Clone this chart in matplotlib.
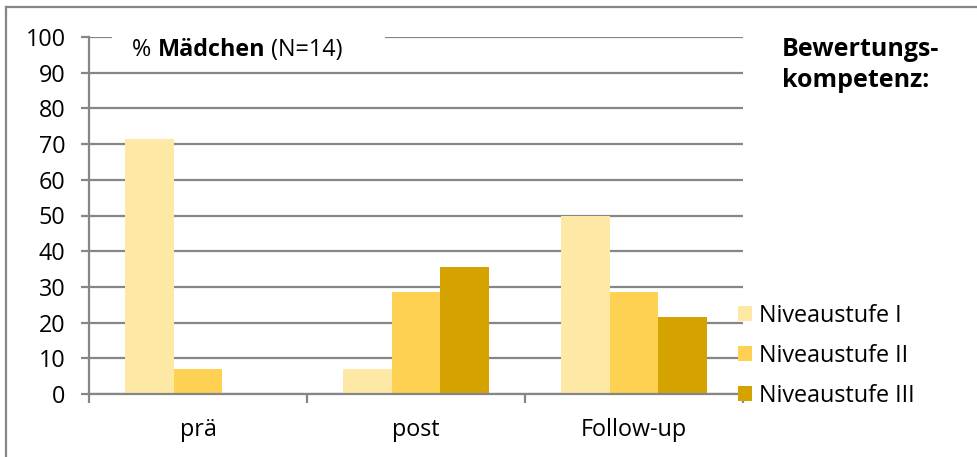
import matplotlib.pyplot as plt
from matplotlib.lines import Line2D
from matplotlib.patches import Rectangle
from matplotlib.text import Annotation
import numpy as np

plt.rcParams['font.family'] = ['Open Sans', 'DejaVu Sans']

# Anteile in Prozent, N=14 Mädchen
zeitpunkte = ['prä', 'post', 'Follow-up']
stufe_1 = [71.43, 7.14, 50.0]
stufe_2 = [7.14, 28.57, 28.57]
stufe_3 = [0.0, 35.71, 21.43]
labels = ['Niveaustufe I', 'Niveaustufe II', 'Niveaustufe III']
farben = ['#FEE8A5', '#FED152', '#D4A300']

W, H = 977, 457
fig = plt.figure(figsize=(W / 100, H / 100), dpi=100)
ax = fig.add_axes([89 / W, 1 - 394 / H, (743 - 89) / W, (394 - 37) / H])

grau = '#868686'
fs = 16.8

x = np.arange(len(zeitpunkte))
w = 0.223
for i, (werte, farbe, lab) in enumerate(zip([stufe_1, stufe_2, stufe_3], farben, labels)):
    ax.bar(x + (i - 1) * w, werte, width=w, color=farbe, label=lab, zorder=2)

ax.set_xlim(-0.5, 2.5)
ax.set_ylim(0, 100)
ax.set_yticks(range(0, 101, 10))
ax.set_xticks(x)
ax.set_xticklabels(zeitpunkte)
ax.set_xticks([-0.5, 0.5, 1.5, 2.5], minor=True)

ax.yaxis.grid(True, color=grau, linewidth=1.6, zorder=1)
ax.set_axisbelow(True)
for s in ['top', 'right']:
    ax.spines[s].set_visible(False)
for s in ['left', 'bottom']:
    ax.spines[s].set_color(grau)
    ax.spines[s].set_linewidth(1.6)

ax.tick_params(axis='y', length=5.8, width=1.6, color=grau, pad=11, labelsize=fs)
ax.tick_params(axis='x', which='major', length=0, pad=17, labelsize=fs)
ax.tick_params(axis='x', which='minor', length=6.5, width=1.6, color=grau)

# Rahmen des Diagramms (oben und links)
fig.add_artist(Line2D([6 / W, 6 / W], [0, 1 - 7 / H], color=grau, linewidth=1.6))
fig.add_artist(Line2D([6 / W, 1], [1 - 7 / H, 1 - 7 / H], color=grau, linewidth=1.6))

# Titelfeld über der obersten Gitterlinie
fig.add_artist(Rectangle((112 / W, 1 - 64 / H), (385 - 112) / W, 38 / H,
                         facecolor='white', edgecolor='none', zorder=3))
t1 = fig.text(132 / W, 1 - 62 / H, '% ', fontsize=fs, va='bottom', zorder=4)
t2 = fig.add_artist(Annotation('Mädchen', xy=(1, 0), xycoords=t1, fontsize=fs,
                               fontweight='bold', va='bottom', ha='left', zorder=4))
t3 = fig.add_artist(Annotation(' (N=14)', xy=(1, 0), xycoords=t2, fontsize=fs,
                               va='bottom', ha='left', zorder=4))

fig.text(782 / W, 1 - 37 / H, 'Bewertungs-\nkompetenz:', fontsize=18, fontweight='bold',
         va='top', ha='left', linespacing=1.33)

fig.legend(loc='center left', bbox_to_anchor=(738 / W, 1 - 356 / H), frameon=False,
           fontsize=fs, handlelength=0.62, handleheight=0.62, handletextpad=0.3,
           labelspacing=0.68, borderaxespad=0, borderpad=0)

fig.savefig('out.png', dpi=100)
